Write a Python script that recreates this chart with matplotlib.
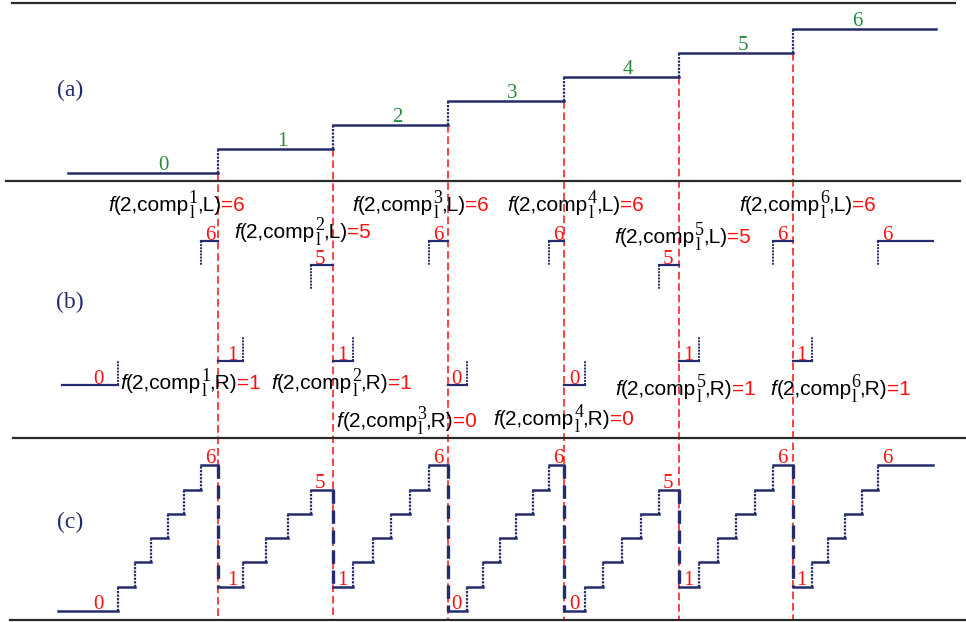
import matplotlib
matplotlib.use("Agg")
import matplotlib.pyplot as plt

# ---- data ----
# x positions where panel (a) steps up (also the red dashed cut lines)
cuts = [218, 333, 448, 564, 679, 793]
a_levels = [0, 1, 2, 3, 4, 5, 6]
a_start, a_end = 68, 936

# panel (c): one staircase per piece, start level, end level, riser positions
c_low = [0, 1, 1, 0, 0, 1, 1]
c_high = [6, 5, 6, 6, 5, 6, 6]
c_rises = [
    [118, 135, 151, 168, 184, 201],
    [243, 266, 288, 311],
    [353, 373, 391, 410, 429],
    [467, 483, 500, 516, 533, 549],
    [585, 603, 622, 641, 659],
    [699, 718, 736, 755, 773],
    [812, 828, 845, 862, 878],
]
c_start, c_end = 58, 933

# labels of panel (b): text split point, baseline
L_split = [221, 347, 465, 620, 727, 852]
L_base = [211, 238, 211, 211, 243, 211]
R_split = [237, 388, 453, 610, 732, 887]
R_base = [389, 389, 427, 425, 395, 395]
panel_names = ["(a)", "(b)", "(c)"]
panel_name_y = [90, 302, 522]

NAVY = "#252c6c"
GREEN = "#2a8a3c"
RED = "#ff1010"
SANS = "Liberation Sans"
SERIF = "Liberation Serif"

fig = plt.figure(figsize=(9.66, 6.22), dpi=100)
ax = fig.add_axes([0, 0, 1, 1])
ax.set_xlim(0, 966)
ax.set_ylim(622, 0)
ax.axis("off")
renderer = fig.canvas.get_renderer()


def ya(v):
    return 173 - 24 * v


def yb(v):
    return 385 - 24 * v


def yc(v):
    return 611 - 24.3 * v


def width(s, **kw):
    t = ax.text(0, 0, s, **kw)
    w = t.get_window_extent(renderer).width
    t.remove()
    return w


def comp_label(xsplit, base, n, side, value):
    # black part ends at xsplit, red "=v" starts there
    k_it = dict(family=SANS, fontsize=15, style="italic")
    k_rm = dict(family=SANS, fontsize=15)
    k_sc = dict(family=SERIF, fontsize=13)
    w_f = width("f", **k_it)
    w_a = width("(2,comp", **k_rm)
    w_s = max(width(str(n), **k_sc), width("l", **k_sc)) - 1
    w_b = width(",%s)" % side, **k_rm)
    x = xsplit - (w_f + w_a + w_s + w_b)
    ax.text(x, base, "f", color="black", ha="left", va="baseline", **k_it)
    x += w_f
    ax.text(x, base, "(2,comp", color="black", ha="left", va="baseline", **k_rm)
    x += w_a
    ax.text(x, base - 8, str(n), color="black", ha="left", va="baseline", **k_sc)
    ax.text(x + 0.5, base + 7, "l", color="black", ha="left", va="baseline", **k_sc)
    x += w_s
    ax.text(x, base, ",%s)" % side, color="black", ha="left", va="baseline", **k_rm)
    ax.text(xsplit, base, "=%d" % value, color=RED, ha="left", va="baseline", **k_rm)


dot = (0, (1, 0.6))

# separators
for y, x0, x1 in [(3, 12, 955), (181, 6, 960), (438, 13, 965), (620, 10, 966)]:
    ax.plot([x0, x1], [y, y], color="#2a2a2a", lw=1.6, zorder=5)

# red cut lines
for i, x in enumerate(cuts):
    ax.plot([x, x], [ya(a_levels[i]), 620], color=RED, lw=1.1,
            ls=(0, (5, 2.5)), zorder=3)

# panel (a)
xs = [a_start] + cuts + [a_end]
for i, v in enumerate(a_levels):
    ax.plot([xs[i], xs[i + 1]], [ya(v), ya(v)], color=NAVY, lw=1.8, zorder=4)
    if i > 0:
        ax.plot([xs[i], xs[i]], [ya(v - 1), ya(v)], color=NAVY, lw=1.6,
                ls=dot, zorder=4)
    lx = xs[i] + 64 if i > 0 else cuts[0] - 55
    ax.text(lx, ya(v) - 3, str(v), color=GREEN, fontsize=15,
            family=SERIF, ha="center", va="baseline")

# panel (c) and (b)
bounds = [c_start] + cuts + [c_end]
for k in range(len(c_rises)):
    rises = c_rises[k]
    lo, hi = c_low[k], c_high[k]
    lvl = lo
    for r in rises:
        ax.plot([r, r], [yc(lvl), yc(lvl + 1)], color=NAVY, lw=1.6,
                ls=dot, zorder=4)
        lvl += 1
    # treads
    tx = [bounds[k]] + rises + [bounds[k + 1]]
    for j in range(len(tx) - 1):
        v = lo + j
        ax.plot([tx[j], tx[j + 1]], [yc(v), yc(v)], color=NAVY, lw=1.8,
                zorder=4)
    # drop to next piece
    if k < len(cuts):
        ax.plot([bounds[k + 1], bounds[k + 1]], [yc(hi), yc(c_low[k + 1])],
                color=NAVY, lw=2.4, ls=(0, (4, 2)), zorder=4)
    # value labels in (c)
    ax.text(rises[-1] + 9, yc(hi) - 2, str(hi), color=RED, fontsize=15,
            family=SERIF, ha="center", va="baseline")
    xl = rises[0] - 11 if k > 0 else rises[0] - 20
    ax.text(xl, yc(lo) - 2, str(lo), color=RED, fontsize=15,
            family=SERIF, ha="center", va="baseline")

    # panel (b): first tread with riser up, last tread with riser down
    ax.plot([bounds[k] + (4 if k == 0 else 0), rises[0]], [yb(lo), yb(lo)],
            color=NAVY, lw=1.6, zorder=4)
    ax.plot([rises[0], rises[0]], [yb(lo), yb(lo + 1)], color=NAVY,
            lw=1.4, ls=dot, zorder=4)
    ax.text(xl, yb(lo) - 1, str(lo), color=RED, fontsize=15,
            family=SERIF, ha="center", va="baseline")
    ax.plot([rises[-1], bounds[k + 1]], [yb(hi), yb(hi)], color=NAVY,
            lw=1.6, zorder=4)
    ax.plot([rises[-1], rises[-1]], [yb(hi), yb(hi - 1)], color=NAVY,
            lw=1.4, ls=dot, zorder=4)
    ax.text(rises[-1] + 9, yb(hi) - 1, str(hi), color=RED, fontsize=15,
            family=SERIF, ha="center", va="baseline")

# f(2, comp, L/R) labels
for i in range(len(cuts)):
    comp_label(L_split[i], L_base[i], i + 1, "L", c_high[i])
    comp_label(R_split[i], R_base[i], i + 1, "R", c_low[i + 1])

for name, y in zip(panel_names, panel_name_y):
    ax.text(70, y, name, color=NAVY, fontsize=17, family=SERIF,
            ha="center", va="center")

fig.savefig("out.png", dpi=100)
